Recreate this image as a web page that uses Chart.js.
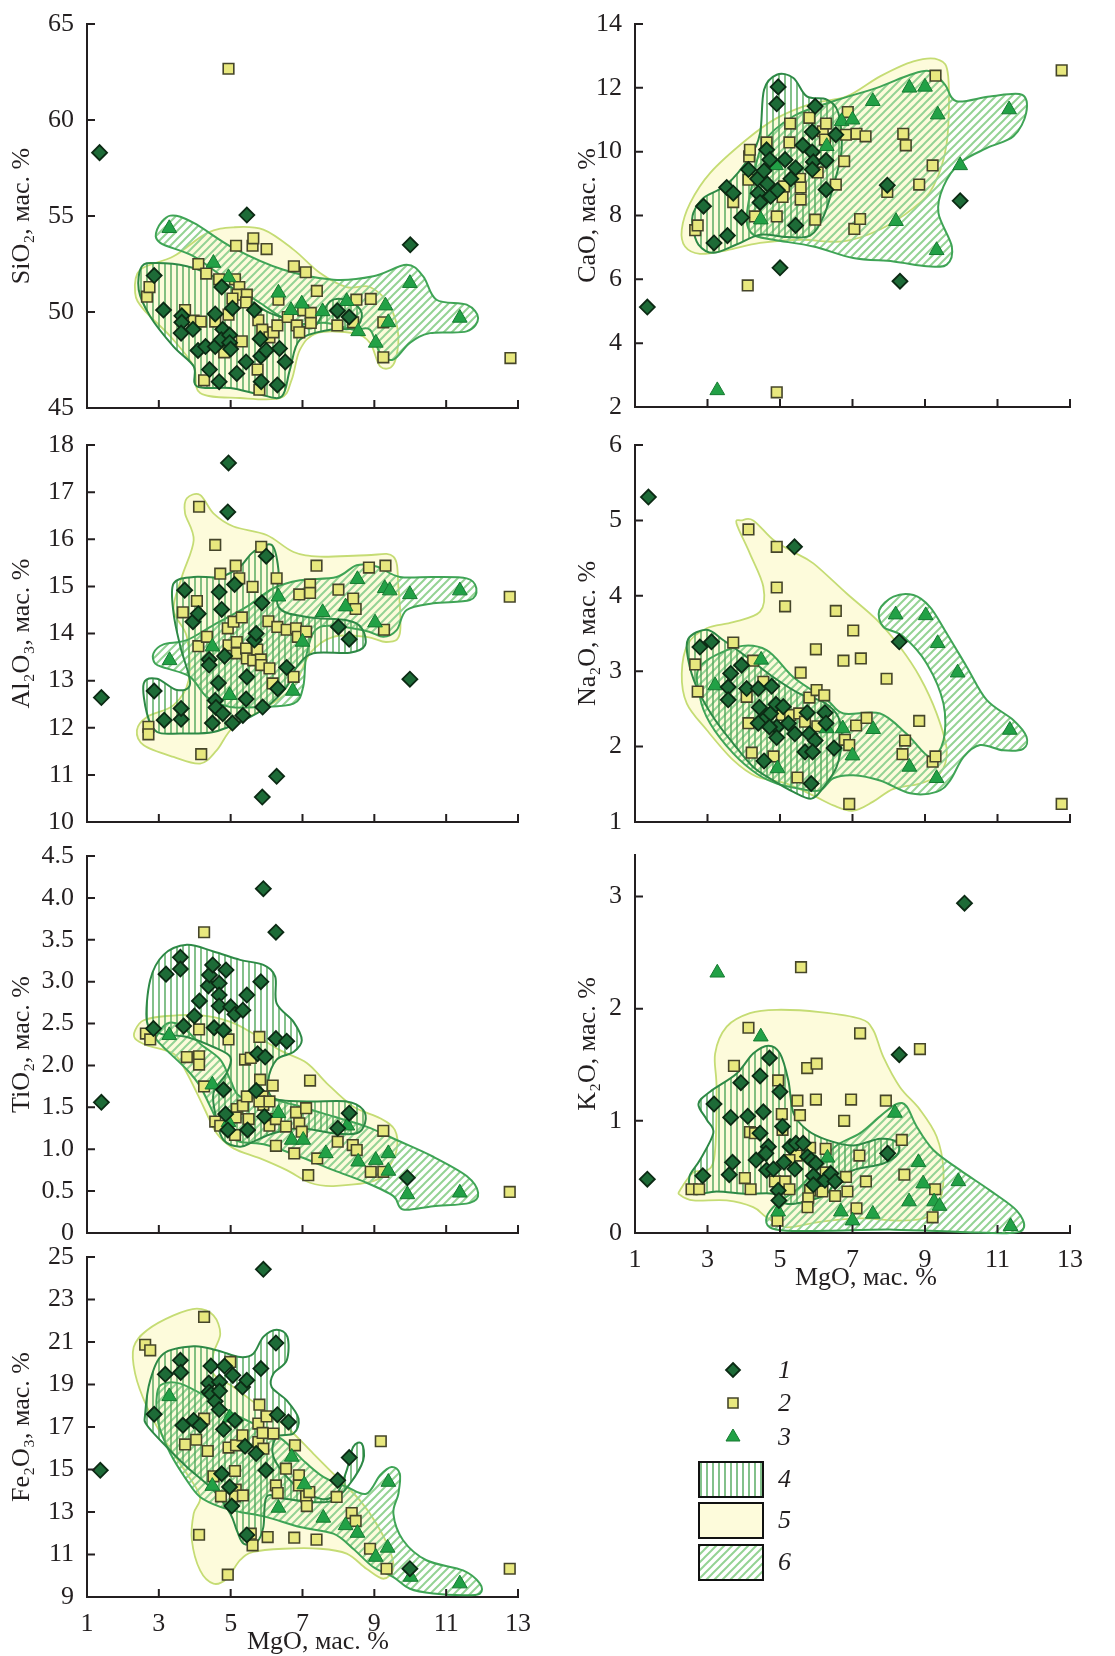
<!DOCTYPE html>
<html>
<head>
<meta charset="utf-8">
<script src="https://cdn.jsdelivr.net/npm/chart.js@4.4.1/dist/chart.umd.min.js"></script>
<style>
  body { margin: 0; background: #fff; width: 1115px; height: 1656px; position: relative; overflow: hidden; }
  canvas { position: absolute; }
  .lg { position: absolute; left: 778px; font: italic 26px "Liberation Serif", serif; color: #231f20; line-height: 26px; margin-top: -13px; }
</style>
</head>
<body>
<canvas id="c1" width="548" height="420" style="left:0;top:0"></canvas>
<canvas id="c2" width="567" height="420" style="left:548px;top:0"></canvas>
<canvas id="c3" width="548" height="420" style="left:0;top:420px"></canvas>
<canvas id="c4" width="567" height="420" style="left:548px;top:420px"></canvas>
<canvas id="c5" width="548" height="420" style="left:0;top:840px"></canvas>
<canvas id="c6" width="567" height="460" style="left:548px;top:840px"></canvas>
<canvas id="c7" width="548" height="416" style="left:0;top:1240px"></canvas>
<canvas id="leg" width="110" height="240" style="left:680px;top:1350px"></canvas>
<div class="lg" style="top:1370px">1</div>
<div class="lg" style="top:1403px">2</div>
<div class="lg" style="top:1437px">3</div>
<div class="lg" style="top:1479px">4</div>
<div class="lg" style="top:1520px">5</div>
<div class="lg" style="top:1562px">6</div>
<script>
// данные: [MgO, оксид]; 1 — ромбы, 2 — квадраты, 3 — треугольники; f4, f5, f6 — поля
const sio2_1 = [[1.35,58.3],[5.45,55.05],[10.0,53.5],[2.87,51.9],[3.13,50.1],[3.64,49.8],[3.64,49.46],[3.62,48.9],[3.95,49.1],[4.09,48.0],[4.3,48.2],[4.41,47.0],[4.68,46.37],[4.57,49.9],[4.57,48.2],[4.75,51.3],[4.78,49.1],[4.74,48.56],[4.97,48.8],[4.97,48.4],[5.0,48.07],[5.05,50.2],[5.17,46.8],[5.43,47.4],[5.66,50.1],[5.82,48.6],[5.84,47.7],[5.99,48.0],[5.85,46.37],[6.36,48.1],[6.52,47.4],[6.3,46.2],[7.97,50.07],[8.3,49.74]];
const sio2_2 = [[4.94,62.67],[2.67,50.8],[2.74,51.3],[3.73,50.1],[4.1,52.5],[4.32,52.0],[3.97,49.55],[4.17,49.5],[4.26,46.44],[4.57,49.5],[4.82,47.9],[4.68,51.7],[5.12,51.7],[5.24,51.3],[5.19,50.9],[5.45,50.9],[5.43,50.5],[5.05,50.7],[4.94,49.86],[5.15,53.45],[5.61,53.45],[5.63,53.84],[6.0,53.28],[5.31,48.47],[5.77,49.57],[5.88,49.08],[5.75,47.0],[5.8,45.95],[6.08,48.68],[6.19,48.94],[6.3,49.3],[6.33,50.64],[6.59,49.74],[6.76,52.38],[7.09,52.07],[6.84,49.3],[6.91,48.94],[7.02,50.09],[7.23,49.95],[7.23,49.43],[7.4,51.1],[7.97,49.3],[8.5,50.64],[8.41,49.46],[8.9,50.68],[9.25,49.46],[9.25,47.64],[12.79,47.6]];
const sio2_3 = [[3.29,54.36],[4.52,52.55],[4.94,51.8],[6.33,51.0],[6.68,50.09],[6.98,50.43],[7.56,50.03],[8.23,50.56],[8.55,48.99],[9.04,48.39],[9.31,50.33],[9.39,49.46],[9.99,51.5],[11.38,49.69]];
const sio2_f4 = [[2.53,52.38],[2.95,52.55],[3.78,52.38],[4.52,51.86],[5.26,50.99],[6.0,50.03],[6.65,49.6],[7.3,49.17],[7.77,50.56],[8.32,50.56],[8.65,49.95],[8.46,49.17],[7.77,49.08],[6.93,48.56],[6.65,47.0],[6.42,45.6],[5.82,45.7],[4.99,46.04],[4.06,46.13],[3.97,47.17],[3.41,48.2],[2.76,49.77],[2.44,51.16]];
const sio2_f5 = [[2.34,51.0],[2.48,52.2],[3.41,52.9],[4.34,54.11],[5.08,54.41],[5.91,54.29],[6.75,53.25],[7.49,52.03],[8.23,51.3],[8.88,51.3],[9.43,50.3],[9.67,48.73],[9.53,47.26],[9.16,47.17],[8.88,48.39],[8.41,48.9],[7.4,48.9],[6.93,48.04],[6.7,46.48],[6.38,45.52],[5.26,45.52],[4.15,45.78],[3.97,47.17],[3.32,48.73],[2.58,50.12]];
const sio2_f6 = [[2.95,54.29],[3.32,55.02],[3.97,54.64],[5.08,53.33],[6.47,52.2],[7.86,51.68],[8.97,51.86],[9.9,52.46],[10.36,51.86],[10.73,50.64],[11.57,50.38],[11.89,49.69],[11.57,48.99],[10.55,48.9],[9.99,48.39],[9.53,47.52],[9.16,47.86],[8.88,49.08],[8.41,49.08],[7.67,49.43],[6.75,49.43],[5.82,50.47],[4.89,51.68],[3.97,52.9],[3.04,53.6]];

const cao_1 = [[1.34,5.13],[2.89,8.29],[3.18,7.14],[3.55,7.37],[3.53,8.88],[3.71,8.7],[3.94,7.94],[4.13,9.44],[4.38,9.15],[4.4,8.7],[4.45,8.41],[4.56,9.4],[4.63,10.06],[4.65,8.99],[4.74,8.6],[4.72,9.75],[4.93,8.79],[4.95,12.03],[4.91,11.5],[5.0,6.36],[5.14,9.75],[5.3,9.15],[5.43,9.49],[5.43,7.69],[5.63,10.2],[5.89,10.62],[5.89,9.99],[5.92,9.68],[5.89,9.44],[5.97,11.42],[6.27,9.72],[6.27,8.81],[6.54,10.53],[7.96,8.95],[8.31,5.94],[9.97,8.46]];
const cao_2 = [[2.66,7.54],[2.73,7.69],[3.71,8.42],[4.11,5.81],[4.15,9.85],[4.17,10.06],[4.13,9.12],[4.31,7.97],[4.63,10.29],[4.91,7.97],[4.91,2.46],[5.07,8.58],[5.11,8.91],[5.28,10.88],[5.26,10.29],[5.55,9.15],[5.57,8.88],[5.57,8.5],[5.81,11.06],[6.04,9.35],[5.97,7.87],[6.18,10.64],[6.27,10.88],[6.24,10.38],[6.54,8.97],[6.77,9.7],[6.82,10.53],[6.87,11.24],[7.11,10.56],[7.36,10.48],[7.05,7.58],[7.21,7.89],[7.96,8.74],[8.4,10.56],[8.47,10.2],[8.84,8.97],[9.21,9.57],[9.29,12.38],[12.77,12.55]];
const cao_3 = [[3.27,2.52],[4.47,7.87],[4.89,9.57],[6.29,10.17],[6.7,10.95],[7.0,11.0],[7.56,11.58],[8.2,7.82],[8.57,12.0],[9.0,12.03],[9.35,11.16],[9.32,6.91],[9.97,9.57],[11.32,11.32]];
const cao_f4 = [[2.61,8.08],[2.89,8.55],[3.53,8.97],[4.17,9.85],[4.45,10.58],[4.56,11.94],[4.91,12.41],[5.37,12.31],[5.74,11.73],[6.29,11.63],[6.61,11.21],[6.7,10.06],[6.47,8.91],[6.2,7.97],[5.83,7.37],[5.18,7.33],[4.45,7.4],[3.8,7.09],[3.16,6.83],[2.75,7.09],[2.59,7.66]];
const cao_f5 = [[2.29,7.56],[2.52,8.39],[3.07,9.33],[4.08,10.38],[4.91,11.05],[5.92,11.52],[6.84,11.73],[7.76,12.36],[8.68,12.83],[9.37,12.88],[9.64,12.36],[9.6,10.27],[9.23,8.91],[8.68,8.23],[7.76,7.56],[6.75,7.19],[5.55,7.24],[4.45,7.14],[3.53,6.91],[2.79,6.8],[2.38,7.03]];
const cao_f6 = [[4.08,7.87],[4.22,8.91],[4.54,10.27],[5.37,11.11],[6.47,11.58],[7.67,12.0],[8.59,12.41],[9.14,12.52],[9.55,12.1],[9.87,11.58],[10.79,11.73],[11.67,11.79],[11.79,11.21],[11.44,10.48],[10.7,10.11],[9.97,9.65],[9.51,8.91],[9.37,8.08],[9.74,7.03],[9.6,6.46],[9.05,6.41],[8.13,6.56],[7.02,6.67],[5.92,7.03],[4.82,7.24],[4.26,7.4]];

const al2o3_1 = [[1.4,12.64],[4.94,17.62],[4.92,16.58],[2.87,12.78],[3.15,12.16],[3.62,12.18],[3.62,12.41],[3.72,14.92],[3.95,14.25],[4.1,14.42],[4.4,13.45],[4.4,13.33],[4.49,12.1],[4.57,12.58],[4.59,12.43],[4.66,12.95],[4.78,12.3],[4.68,14.88],[4.75,14.51],[4.83,13.52],[5.05,12.1],[5.11,15.04],[5.34,12.26],[5.43,12.61],[5.45,13.08],[5.66,13.86],[5.71,14.0],[5.87,14.65],[5.99,15.64],[5.89,12.44],[5.88,10.53],[6.28,10.97],[6.31,12.83],[6.56,13.28],[8.0,14.14],[8.3,13.88],[9.99,13.03]];
const al2o3_2 = [[2.71,12.02],[2.71,11.86],[4.12,16.69],[4.18,11.44],[3.67,14.45],[4.06,14.69],[4.1,13.73],[4.34,13.93],[4.57,15.88],[4.71,15.27],[4.92,14.11],[4.94,13.75],[5.08,14.25],[5.14,15.44],[5.17,13.82],[5.17,13.58],[5.24,15.17],[5.31,14.34],[5.43,13.68],[5.45,13.47],[5.61,14.99],[5.63,13.43],[5.74,13.66],[5.85,15.84],[5.84,13.45],[5.85,13.33],[6.05,14.26],[6.08,13.26],[6.17,12.94],[6.28,15.17],[6.3,14.14],[6.56,14.08],[6.82,14.11],[6.91,14.83],[6.87,13.93],[6.75,13.08],[7.1,14.04],[7.21,15.04],[7.21,14.86],[7.39,15.44],[8.0,14.93],[8.41,14.74],[8.48,14.52],[8.85,15.4],[9.31,15.44],[9.27,14.08],[12.77,14.78]];
const al2o3_3 = [[3.3,13.43],[4.49,13.72],[4.97,12.69],[6.33,14.78],[6.73,12.78],[7.0,13.82],[7.56,14.45],[8.2,14.57],[8.53,15.15],[9.02,14.23],[9.29,14.96],[9.43,14.91],[9.99,14.83],[11.38,14.91]];
const al2o3_f4 = [[3.41,15.06],[3.97,15.2],[4.71,15.2],[5.26,15.42],[5.63,15.73],[6.14,15.88],[6.33,15.35],[6.33,14.57],[7.12,14.35],[8.23,14.28],[8.65,14.11],[8.74,13.75],[8.32,13.59],[7.3,13.58],[6.84,13.29],[6.56,12.87],[6.0,12.44],[5.36,12.16],[4.52,11.91],[3.6,11.88],[2.95,11.91],[2.67,12.3],[2.58,12.94],[2.95,13.04],[3.5,12.8],[3.87,12.94],[3.6,13.72],[3.41,14.43]];
const al2o3_f5 = [[3.78,16.87],[4.15,16.94],[4.52,16.55],[5.08,16.27],[6.0,16.09],[6.75,15.73],[7.49,15.63],[8.78,15.66],[9.53,15.63],[9.67,14.99],[9.71,14.0],[9.34,13.82],[8.78,13.93],[7.86,13.93],[7.21,13.58],[6.75,12.87],[6.0,12.44],[5.08,12.02],[4.61,11.52],[4.15,11.24],[3.41,11.38],[2.58,11.63],[2.39,11.95],[2.67,12.23],[3.41,12.48],[3.83,13.01],[3.78,13.93],[3.41,14.5],[3.64,15.2],[3.97,15.98],[3.73,16.55]];
const al2o3_f6 = [[2.85,13.58],[3.13,13.77],[3.78,13.86],[4.52,14.18],[5.45,14.57],[6.19,14.96],[6.93,15.13],[7.95,15.2],[8.51,15.45],[9.06,15.42],[9.71,15.2],[10.64,15.2],[11.57,15.17],[11.84,14.96],[11.66,14.71],[10.64,14.64],[9.9,14.5],[9.62,14.07],[9.25,13.93],[8.69,14.07],[7.49,14.14],[7.12,13.58],[7.02,12.87],[6.75,12.51],[5.82,12.44],[4.99,12.44],[4.34,12.65],[3.87,13.08],[3.22,13.26],[2.9,13.36]];

const na2o_1 = [[1.37,5.31],[5.4,4.65],[8.29,3.39],[2.79,3.32],[3.11,3.39],[3.64,2.97],[3.94,3.08],[3.57,2.79],[3.57,2.62],[4.08,2.77],[4.4,2.77],[4.77,2.8],[4.43,2.52],[4.63,2.39],[4.4,2.31],[4.74,2.44],[4.89,2.56],[5.09,2.53],[4.91,2.26],[4.91,2.12],[4.71,2.26],[5.23,2.31],[5.41,2.17],[5.75,2.45],[5.81,2.17],[5.97,2.08],[5.69,1.93],[5.9,1.93],[6.24,2.45],[6.27,2.31],[6.49,1.98],[4.56,1.81],[5.86,1.51]];
const na2o_2 = [[4.13,4.88],[4.91,4.65],[4.91,4.11],[5.14,3.86],[6.54,3.8],[7.02,3.54],[5.99,3.29],[6.75,3.14],[7.23,3.17],[7.94,2.9],[3.71,3.38],[4.26,3.14],[2.66,3.09],[2.73,2.73],[4.08,2.66],[4.54,2.86],[5.57,2.98],[5.81,2.65],[6.01,2.75],[6.22,2.68],[4.13,2.31],[4.22,1.92],[4.82,1.87],[5.05,2.42],[5.28,2.42],[5.53,2.44],[5.69,2.33],[6.03,2.27],[5.48,1.59],[6.79,2.09],[6.91,2.02],[6.91,1.24],[7.1,2.28],[7.39,2.38],[8.45,2.08],[8.38,1.9],[8.84,2.34],[9.21,1.8],[9.29,1.87],[12.77,1.24]];
const na2o_3 = [[3.21,2.81],[4.48,3.15],[4.93,1.71],[6.29,2.24],[6.73,2.24],[7.0,1.88],[7.57,2.23],[8.19,3.75],[8.57,1.73],[9.02,3.74],[9.35,3.37],[9.9,2.98],[9.32,1.58],[11.34,2.22]];
const na2o_f4 = [[2.47,3.43],[2.98,3.55],[3.44,3.41],[4.08,3.19],[4.82,2.92],[5.55,2.7],[6.2,2.59],[6.61,2.39],[6.7,2.08],[6.56,1.73],[6.2,1.46],[5.87,1.31],[5.37,1.4],[4.82,1.55],[4.26,1.73],[3.71,2.04],[3.16,2.39],[2.7,2.79],[2.47,3.15]];
const na2o_f5 = [[3.94,5.0],[4.26,5.0],[4.82,4.74],[5.37,4.58],[5.92,4.43],[6.84,4.03],[7.67,3.68],[8.31,3.32],[8.86,2.92],[9.32,2.44],[9.6,1.95],[9.41,1.64],[8.86,1.51],[8.13,1.44],[7.57,1.27],[7.02,1.15],[6.47,1.22],[5.92,1.35],[5.18,1.51],[4.36,1.6],[3.71,1.82],[2.98,2.22],[2.43,2.57],[2.29,2.97],[2.47,3.37],[2.98,3.57],[3.71,3.65],[4.45,3.79],[4.54,4.12],[4.17,4.56],[3.8,4.96]];
const na2o_f6 = [[2.79,3.06],[3.8,3.32],[4.63,3.28],[5.37,2.92],[6.29,2.62],[6.75,2.44],[7.76,2.44],[8.49,2.17],[9.14,1.86],[9.51,2.08],[9.51,2.57],[9.05,3.1],[8.4,3.46],[7.85,3.59],[7.74,3.81],[8.13,3.99],[8.68,4.01],[9.14,3.85],[9.6,3.5],[10.15,3.06],[10.7,2.62],[11.44,2.35],[11.8,2.13],[11.71,1.97],[11.16,1.95],[10.52,2.02],[10.06,1.86],[9.69,1.55],[9.32,1.4],[8.59,1.38],[7.76,1.55],[7.02,1.62],[6.47,1.58],[6.1,1.42],[5.55,1.44],[4.91,1.51],[4.36,1.64],[3.71,1.91],[3.07,2.31],[2.79,2.66]];

const tio2_1 = [[1.4,1.56],[5.91,4.11],[6.26,3.59],[2.85,2.44],[3.2,3.09],[3.6,3.29],[3.6,3.15],[3.69,2.47],[3.99,2.59],[4.13,2.77],[4.38,2.95],[4.41,3.08],[4.5,3.2],[4.54,2.45],[4.68,2.98],[4.68,2.84],[4.68,2.71],[4.8,2.42],[4.87,3.14],[5.0,2.7],[5.12,2.61],[5.34,2.66],[5.45,2.84],[5.84,3.0],[5.75,2.14],[5.96,2.1],[6.26,2.32],[6.56,2.29],[4.8,1.71],[5.71,1.7],[4.86,1.42],[4.92,1.23],[5.94,1.39],[5.47,1.23],[7.98,1.25],[8.3,1.43],[9.92,0.66]];
const tio2_2 = [[4.26,3.59],[2.64,2.38],[2.76,2.31],[4.12,2.43],[3.78,2.1],[4.12,2.11],[4.12,2.01],[4.94,2.31],[4.26,1.75],[4.57,1.33],[4.71,1.28],[4.99,1.38],[5.17,1.48],[5.14,1.38],[5.12,1.17],[5.34,1.52],[5.45,1.63],[5.5,1.36],[5.4,2.07],[5.56,2.09],[5.8,2.34],[5.82,1.83],[5.89,1.63],[5.91,1.53],[5.8,1.57],[6.08,1.57],[6.17,1.76],[6.08,1.28],[6.26,1.36],[6.54,1.27],[6.26,1.04],[6.82,1.44],[6.91,1.31],[6.77,0.95],[6.98,1.21],[7.1,1.49],[7.21,1.82],[7.41,0.89],[7.16,0.69],[7.98,1.09],[8.4,1.05],[8.51,0.99],[8.9,0.73],[9.25,1.22],[9.25,0.73],[12.77,0.49]];
const tio2_3 = [[3.29,2.36],[4.49,1.77],[4.94,1.32],[6.33,1.43],[6.7,1.11],[7.02,1.11],[7.65,0.95],[8.25,1.28],[8.55,0.85],[9.04,0.87],[9.39,0.95],[9.39,0.74],[9.92,0.46],[11.38,0.48]];
const tio2_f4 = [[2.67,2.52],[2.76,3.02],[3.13,3.32],[3.78,3.44],[4.52,3.36],[5.26,3.26],[5.91,3.2],[6.24,3.06],[6.28,2.74],[6.75,2.52],[6.98,2.3],[6.75,2.16],[6.28,2.07],[6.05,1.83],[6.19,1.61],[7.12,1.57],[8.23,1.57],[8.69,1.47],[8.74,1.31],[8.51,1.19],[7.86,1.19],[6.93,1.25],[6.19,1.19],[5.63,1.09],[5.26,1.03],[4.8,1.11],[4.61,1.35],[4.52,1.67],[4.89,1.91],[4.99,2.1],[4.52,2.22],[3.78,2.34],[3.04,2.38]];
const tio2_f5 = [[2.34,2.42],[2.58,2.54],[3.22,2.59],[4.15,2.6],[4.99,2.52],[5.63,2.38],[6.38,2.18],[7.12,2.03],[7.67,1.79],[8.41,1.51],[9.16,1.37],[9.57,1.23],[9.62,0.99],[9.34,0.75],[8.97,0.62],[7.86,0.56],[7.21,0.6],[6.56,0.75],[5.82,0.89],[5.08,1.01],[4.61,1.19],[4.24,1.51],[3.78,1.91],[3.41,2.14],[2.67,2.24],[2.34,2.32]];
const tio2_f6 = [[2.95,2.36],[3.22,2.5],[3.6,2.48],[4.15,2.26],[4.71,2.07],[4.99,1.83],[5.26,1.63],[6.0,1.61],[6.93,1.51],[7.86,1.39],[8.78,1.27],[9.62,1.11],[10.64,0.91],[11.57,0.68],[11.89,0.48],[11.66,0.36],[10.64,0.32],[9.8,0.28],[9.53,0.44],[8.78,0.6],[7.86,0.75],[6.93,0.91],[6.0,1.05],[5.26,1.09],[4.8,1.19],[4.52,1.43],[4.15,1.75],[3.78,1.95],[3.22,2.18],[2.95,2.3]];

const k2o_1 = [[1.34,0.48],[10.09,2.94],[8.29,1.59],[7.97,0.71],[2.87,0.51],[3.18,1.15],[3.6,0.52],[3.64,1.03],[3.69,0.63],[3.92,1.34],[4.11,1.04],[4.34,0.65],[4.45,1.4],[4.45,0.89],[4.54,1.08],[4.63,0.56],[4.68,0.77],[4.71,1.56],[4.61,0.71],[4.82,0.57],[5.0,1.26],[5.07,0.95],[5.11,0.63],[4.95,0.38],[4.97,0.29],[5.28,0.77],[5.41,0.57],[5.44,0.8],[5.64,0.8],[5.76,0.68],[5.86,0.65],[5.99,0.62],[5.92,0.51],[5.92,0.43],[6.24,0.47],[6.4,0.53],[6.52,0.46]];
const k2o_2 = [[5.58,2.37],[4.13,1.83],[3.73,1.49],[7.21,1.78],[8.86,1.64],[5.75,1.47],[6.01,1.51],[4.95,1.36],[5.48,1.18],[5.99,1.19],[6.96,1.19],[7.92,1.18],[5.55,1.05],[5.05,1.06],[6.77,1.0],[4.17,0.9],[4.31,0.89],[5.07,0.92],[5.83,0.76],[6.26,0.75],[7.19,0.69],[5.46,0.69],[5.26,0.65],[8.36,0.83],[4.03,0.49],[4.19,0.39],[2.56,0.39],[2.77,0.39],[4.86,0.46],[5.14,0.46],[5.26,0.39],[5.83,0.38],[5.78,0.31],[5.76,0.23],[6.17,0.37],[6.26,0.54],[6.52,0.33],[6.82,0.5],[6.86,0.37],[7.37,0.46],[7.11,0.22],[8.43,0.52],[9.28,0.39],[9.21,0.14],[4.93,0.11]];
const k2o_3 = [[3.27,2.32],[4.47,1.75],[6.31,0.67],[8.17,1.07],[8.82,0.63],[8.95,0.44],[9.92,0.46],[8.56,0.28],[9.25,0.28],[9.4,0.24],[6.68,0.19],[7.56,0.17],[7.0,0.11],[4.95,0.19],[11.36,0.06]];
const k2o_f4 = [[2.75,1.15],[3.07,1.26],[3.8,1.42],[4.26,1.6],[4.68,1.67],[5.0,1.6],[5.23,1.36],[5.37,1.07],[5.74,0.92],[6.29,0.83],[7.02,0.78],[7.76,0.84],[8.22,0.81],[8.26,0.71],[7.85,0.62],[7.02,0.56],[6.56,0.47],[6.29,0.35],[5.83,0.29],[5.18,0.26],[4.82,0.35],[4.08,0.35],[3.25,0.37],[2.61,0.35],[2.5,0.5],[2.79,0.65],[3.16,0.89],[2.98,1.01]];
const k2o_f5 = [[2.24,0.38],[2.61,0.54],[3.16,0.63],[3.25,1.27],[3.21,1.6],[3.53,1.84],[4.17,1.96],[4.91,1.99],[6.1,1.97],[7.21,1.91],[7.57,1.81],[7.85,1.57],[8.31,1.3],[8.86,1.1],[9.32,0.86],[9.51,0.56],[9.41,0.29],[9.05,0.14],[8.31,0.11],[7.21,0.13],[6.1,0.1],[5.18,0.05],[4.63,0.14],[4.26,0.23],[3.53,0.29],[2.61,0.29],[2.24,0.34]];
const k2o_f6 = [[4.63,0.14],[4.91,0.26],[5.55,0.41],[6.1,0.62],[6.56,0.78],[7.21,0.89],[7.76,1.04],[8.22,1.15],[8.49,1.13],[8.77,0.95],[9.23,0.74],[9.97,0.56],[10.79,0.38],[11.53,0.2],[11.73,0.05],[11.34,0.0],[9.97,0.01],[8.13,0.03],[6.29,0.02],[5.18,0.02],[4.72,0.05]];

const fe2o3_1 = [[1.37,14.96],[5.91,24.42],[6.26,20.95],[5.84,19.75],[2.87,17.6],[3.18,19.48],[3.6,20.14],[3.61,19.57],[3.67,17.08],[3.97,17.31],[4.15,17.08],[4.45,19.87],[4.39,19.07],[4.4,18.65],[4.46,18.54],[4.57,18.21],[4.68,17.82],[4.69,19.12],[4.69,18.69],[4.83,19.87],[5.06,19.43],[5.12,17.31],[4.8,16.89],[5.33,18.88],[5.45,19.2],[5.4,16.09],[5.71,15.75],[4.75,14.8],[4.97,14.18],[5.03,13.28],[5.45,11.92],[5.98,14.96],[6.3,17.58],[6.61,17.24],[7.98,14.49],[8.3,15.56],[9.99,10.33]];
const fe2o3_2 = [[4.26,22.18],[2.62,20.87],[2.76,20.61],[4.26,17.39],[3.73,16.18],[4.04,16.4],[4.36,15.87],[4.52,14.68],[4.73,13.74],[4.99,20.06],[4.94,16.03],[5.12,14.93],[5.15,16.14],[5.14,14.05],[5.12,13.74],[5.34,13.78],[5.33,16.61],[5.8,18.05],[5.77,17.16],[5.77,16.29],[5.89,16.72],[5.91,15.98],[6.0,17.5],[6.19,16.69],[5.56,11.98],[5.61,11.43],[6.03,11.82],[6.26,14.25],[6.31,13.89],[6.54,15.04],[6.79,16.14],[6.9,14.73],[6.9,14.25],[7.1,13.74],[7.19,13.94],[7.12,13.28],[6.77,11.79],[7.39,11.7],[7.95,13.71],[8.37,12.95],[8.48,12.58],[8.88,11.27],[9.34,10.33],[9.18,16.33],[4.12,11.93],[4.92,10.05],[12.77,10.33]];
const fe2o3_3 = [[3.29,18.44],[4.49,14.22],[4.97,17.44],[6.33,13.19],[6.7,15.59],[7.05,14.29],[7.58,12.72],[8.2,12.37],[8.53,12.01],[9.04,10.88],[9.37,11.31],[9.39,14.41],[10.01,9.94],[11.38,9.63]];
const fe2o3_f4 = [[2.62,17.63],[2.76,19.2],[3.13,20.45],[3.97,20.8],[4.61,20.61],[5.26,20.29],[5.63,20.45],[5.91,21.24],[6.28,21.58],[6.58,21.24],[6.56,20.14],[6.19,19.51],[6.14,18.88],[6.56,18.25],[6.89,17.39],[6.75,16.69],[6.28,16.53],[6.19,15.59],[6.75,14.33],[7.49,13.63],[7.95,13.86],[8.23,14.96],[8.41,16.06],[8.65,16.22],[8.69,15.43],[8.32,14.33],[7.86,13.55],[7.21,13.47],[6.47,13.63],[6.0,13.71],[5.91,12.29],[5.73,11.59],[5.36,11.51],[5.17,12.14],[4.99,12.92],[4.52,14.02],[3.78,15.12],[3.22,16.06],[2.67,17.08]];
const fe2o3_f5 = [[2.3,20.76],[2.67,21.55],[3.41,22.25],[4.06,22.57],[4.52,22.25],[4.71,21.39],[4.52,20.45],[4.52,19.51],[5.08,18.88],[5.82,17.94],[6.56,17.0],[7.3,15.75],[7.95,14.65],[8.6,13.55],[9.06,12.45],[9.43,11.2],[9.53,10.33],[9.25,9.86],[8.78,10.33],[8.23,11.04],[7.49,11.27],[6.47,11.27],[5.63,11.12],[5.26,10.73],[4.89,9.86],[4.52,9.63],[4.15,10.25],[3.92,11.67],[3.97,12.92],[4.15,13.71],[3.78,14.8],[3.22,16.22],[2.67,17.94],[2.34,19.51]];
const fe2o3_f6 = [[2.95,18.57],[3.13,19.04],[3.6,19.04],[4.34,18.41],[5.08,17.63],[5.82,17.0],[6.47,16.37],[7.02,15.43],[7.58,14.65],[8.23,14.18],[8.78,13.86],[9.16,14.73],[9.48,15.12],[9.71,14.8],[9.67,13.86],[9.53,12.92],[9.8,11.67],[10.45,10.73],[11.47,10.25],[11.94,9.63],[11.94,9.16],[11.47,9.08],[10.64,9.16],[9.99,9.39],[9.53,9.94],[8.97,10.41],[8.41,11.27],[7.86,11.98],[6.93,12.29],[6.0,12.76],[5.26,13.0],[4.71,13.24],[4.15,13.71],[3.78,14.49],[3.32,15.75],[2.99,17.16]];

const FONT = '"Liberation Serif", "Times New Roman", serif';
const INK = '#231f20';
const fieldsById = {};

function hatchTile(kind) {
  const c = document.createElement('canvas');
  const g = c.getContext('2d');
  if (kind === 'vert') {
    c.width = 6; c.height = 6;
    g.strokeStyle = '#4fa65a'; g.lineWidth = 1.4;
    g.beginPath(); g.moveTo(3, 0); g.lineTo(3, 6); g.stroke();
  } else {
    c.width = 8; c.height = 8;
    g.strokeStyle = '#94d394'; g.lineWidth = 2;
    g.beginPath();
    g.moveTo(0, 8); g.lineTo(8, 0);
    g.moveTo(-2, 2); g.lineTo(2, -2);
    g.moveTo(6, 10); g.lineTo(10, 6);
    g.stroke();
  }
  return c;
}
const vertTile = hatchTile('vert');
const diagTile = hatchTile('diag');

// замкнутый сглаженный контур поля
function fieldPath(ctx, pts) {
  const n = pts.length;
  ctx.beginPath();
  ctx.moveTo(pts[0][0], pts[0][1]);
  for (let i = 0; i < n; i++) {
    const p0 = pts[(i - 1 + n) % n], p1 = pts[i], p2 = pts[(i + 1) % n], p3 = pts[(i + 2) % n];
    ctx.bezierCurveTo(
      p1[0] + (p2[0] - p0[0]) / 6, p1[1] + (p2[1] - p0[1]) / 6,
      p2[0] - (p3[0] - p1[0]) / 6, p2[1] - (p3[1] - p1[1]) / 6,
      p2[0], p2[1]);
  }
  ctx.closePath();
}

const fieldsPlugin = {
  id: 'fields',
  beforeDatasetsDraw(chart) {
    const f = fieldsById[chart.canvas.id];
    if (!f) return;
    const {ctx, scales: {x, y}} = chart;
    const px = arr => arr.map(([a, b]) => [x.getPixelForValue(a), y.getPixelForValue(b)]);
    const layers = [
      {pts: f.f5, fill: '#fdfbdb', stroke: '#c5dc74', w: 1.8},
      {pts: f.f6, fill: ctx.createPattern(diagTile, 'repeat'), stroke: '#3fa456', w: 2},
      {pts: f.f4, fill: ctx.createPattern(vertTile, 'repeat'), stroke: '#2d8946', w: 2}
    ];
    ctx.save();
    layers.forEach(l => {
      fieldPath(ctx, px(l.pts));
      ctx.fillStyle = l.fill;
      ctx.fill();
      ctx.strokeStyle = l.stroke;
      ctx.lineWidth = l.w;
      ctx.stroke();
    });
    ctx.restore();
  }
};

// засечки внутрь и подпись оси MgO
const axisPlugin = {
  id: 'axisMarks',
  afterDraw(chart) {
    const {ctx, chartArea: a, scales: {x, y}} = chart;
    ctx.save();
    ctx.strokeStyle = INK;
    ctx.lineWidth = 2;
    ctx.beginPath();
    x.ticks.forEach(t => {
      const p = x.getPixelForValue(t.value);
      ctx.moveTo(p, a.bottom); ctx.lineTo(p, a.bottom - 8);
    });
    y.ticks.forEach(t => {
      const p = y.getPixelForValue(t.value);
      ctx.moveTo(a.left, p); ctx.lineTo(a.left + 8, p);
    });
    ctx.stroke();
    if (chart.canvas.dataset.xtitle) {
      ctx.fillStyle = INK;
      ctx.font = '26px ' + FONT;
      ctx.textBaseline = 'middle';
      ctx.textAlign = 'left';
      ctx.fillText('MgO, мас. %', a.left + 160, a.bottom + 45);
    }
    ctx.restore();
  }
};

function makePanel(p) {
  const el = document.getElementById(p.id);
  fieldsById[p.id] = {f4: p.f4, f5: p.f5, f6: p.f6};
  if (p.xLabels) el.dataset.xtitle = '1';
  const pts = arr => arr.map(([x, y]) => ({x, y}));
  new Chart(el, {
    type: 'scatter',
    data: {
      datasets: [
        {label: '1', data: pts(p.g1), pointStyle: 'rectRot', pointRadius: 7.5, backgroundColor: '#1d6b37', borderColor: '#0c2a14', borderWidth: 1.8, order: 0, clip: false},
        {label: '3', data: pts(p.g3), pointStyle: 'triangle', pointRadius: 8.5, backgroundColor: '#22a146', borderColor: '#167a31', borderWidth: 1, order: 1, clip: false},
        {label: '2', data: pts(p.g2), pointStyle: 'rect', pointRadius: 7.5, backgroundColor: '#e8e87e', borderColor: '#45452a', borderWidth: 1.6, order: 2, clip: false}
      ]
    },
    options: {
      responsive: false,
      animation: false,
      events: [],
      layout: {padding: {top: p.padTop, right: p.padRight, bottom: 0, left: 0}},
      plugins: {legend: {display: false}, tooltip: {enabled: false}},
      scales: {
        x: {
          type: 'linear', min: 1, max: 13,
          grid: {display: false},
          border: {color: INK, width: 2},
          ticks: {stepSize: 2, display: !!p.xLabels, font: {family: FONT, size: 26}, color: INK, padding: 4, maxRotation: 0, autoSkip: false},
          afterFit: s => { s.height = p.xH; s.paddingLeft = 0; s.paddingRight = 0; }
        },
        y: {
          type: 'linear', min: p.min, max: p.max,
          grid: {display: false},
          border: {color: INK, width: 2},
          ticks: {stepSize: p.step, includeBounds: false, font: {family: FONT, size: 26}, color: INK, padding: 5,
            callback: v => p.dec ? (v === 0 ? '0' : v.toFixed(1)) : String(v)},
          title: {display: true, text: p.title, font: {family: FONT, size: 26}, color: INK, padding: {top: p.tPad, bottom: 0}},
          afterFit: s => { s.width = 87; s.paddingTop = 0; s.paddingBottom = 0; }
        }
      }
    },
    plugins: [fieldsPlugin, axisPlugin]
  });
}

makePanel({id: 'c1', title: 'SiO₂, мас. %', min: 45, max: 65, step: 5, padTop: 24, padRight: 30, xH: 12, tPad: 7,
  g1: sio2_1, g2: sio2_2, g3: sio2_3, f4: sio2_f4, f5: sio2_f5, f6: sio2_f6});
makePanel({id: 'c2', title: 'CaO, мас. %', min: 2, max: 14, step: 2, padTop: 24, padRight: 45, xH: 13, tPad: 25,
  g1: cao_1, g2: cao_2, g3: cao_3, f4: cao_f4, f5: cao_f5, f6: cao_f6});
makePanel({id: 'c3', title: 'Al₂O₃, мас. %', min: 10, max: 18, step: 1, padTop: 25, padRight: 30, xH: 18, tPad: 7,
  g1: al2o3_1, g2: al2o3_2, g3: al2o3_3, f4: al2o3_f4, f5: al2o3_f5, f6: al2o3_f6});
makePanel({id: 'c4', title: 'Na₂O, мас. %', min: 1, max: 6, step: 1, padTop: 25, padRight: 45, xH: 18, tPad: 25,
  g1: na2o_1, g2: na2o_2, g3: na2o_3, f4: na2o_f4, f5: na2o_f5, f6: na2o_f6});
makePanel({id: 'c5', title: 'TiO₂, мас. %', min: 0, max: 4.5, step: 0.5, dec: true, padTop: 16, padRight: 30, xH: 27, tPad: 7,
  g1: tio2_1, g2: tio2_2, g3: tio2_3, f4: tio2_f4, f5: tio2_f5, f6: tio2_f6});
makePanel({id: 'c6', title: 'K₂O, мас. %', min: 0, max: 3.37, step: 1, padTop: 15, padRight: 45, xH: 67, tPad: 25, xLabels: true,
  g1: k2o_1, g2: k2o_2, g3: k2o_3, f4: k2o_f4, f5: k2o_f5, f6: k2o_f6});
makePanel({id: 'c7', title: 'Fe₂O₃, мас. %', min: 9, max: 25, step: 2, padTop: 17, padRight: 30, xH: 59, tPad: 7, xLabels: true,
  g1: fe2o3_1, g2: fe2o3_2, g3: fe2o3_3, f4: fe2o3_f4, f5: fe2o3_f5, f6: fe2o3_f6});

// условные обозначения
(function legend() {
  const ctx = document.getElementById('leg').getContext('2d');
  const cx = 53;
  ctx.lineWidth = 1.8;
  ctx.fillStyle = '#1d6b37'; ctx.strokeStyle = '#0c2a14';
  ctx.beginPath(); ctx.moveTo(cx, 13); ctx.lineTo(cx + 7, 20); ctx.lineTo(cx, 27); ctx.lineTo(cx - 7, 20); ctx.closePath(); ctx.fill(); ctx.stroke();
  ctx.lineWidth = 1.6;
  ctx.fillStyle = '#e8e87e'; ctx.strokeStyle = '#45452a';
  ctx.beginPath(); ctx.rect(cx - 5, 48, 10, 10); ctx.fill(); ctx.stroke();
  ctx.lineWidth = 1;
  ctx.fillStyle = '#22a146'; ctx.strokeStyle = '#167a31';
  ctx.beginPath(); ctx.moveTo(cx, 79); ctx.lineTo(cx + 7, 91); ctx.lineTo(cx - 7, 91); ctx.closePath(); ctx.fill(); ctx.stroke();
  const boxes = [
    {y: 112, fill: ctx.createPattern(vertTile, 'repeat'), bg: '#fff'},
    {y: 153, fill: '#fdfbdb', bg: '#fdfbdb'},
    {y: 195, fill: ctx.createPattern(diagTile, 'repeat'), bg: '#fff'}
  ];
  boxes.forEach(b => {
    ctx.fillStyle = b.bg; ctx.fillRect(19, b.y, 64, 35);
    ctx.fillStyle = b.fill; ctx.fillRect(19, b.y, 64, 35);
    ctx.strokeStyle = '#111'; ctx.lineWidth = 2;
    ctx.strokeRect(19, b.y, 64, 35);
  });
})();
</script>
</body>
</html>
